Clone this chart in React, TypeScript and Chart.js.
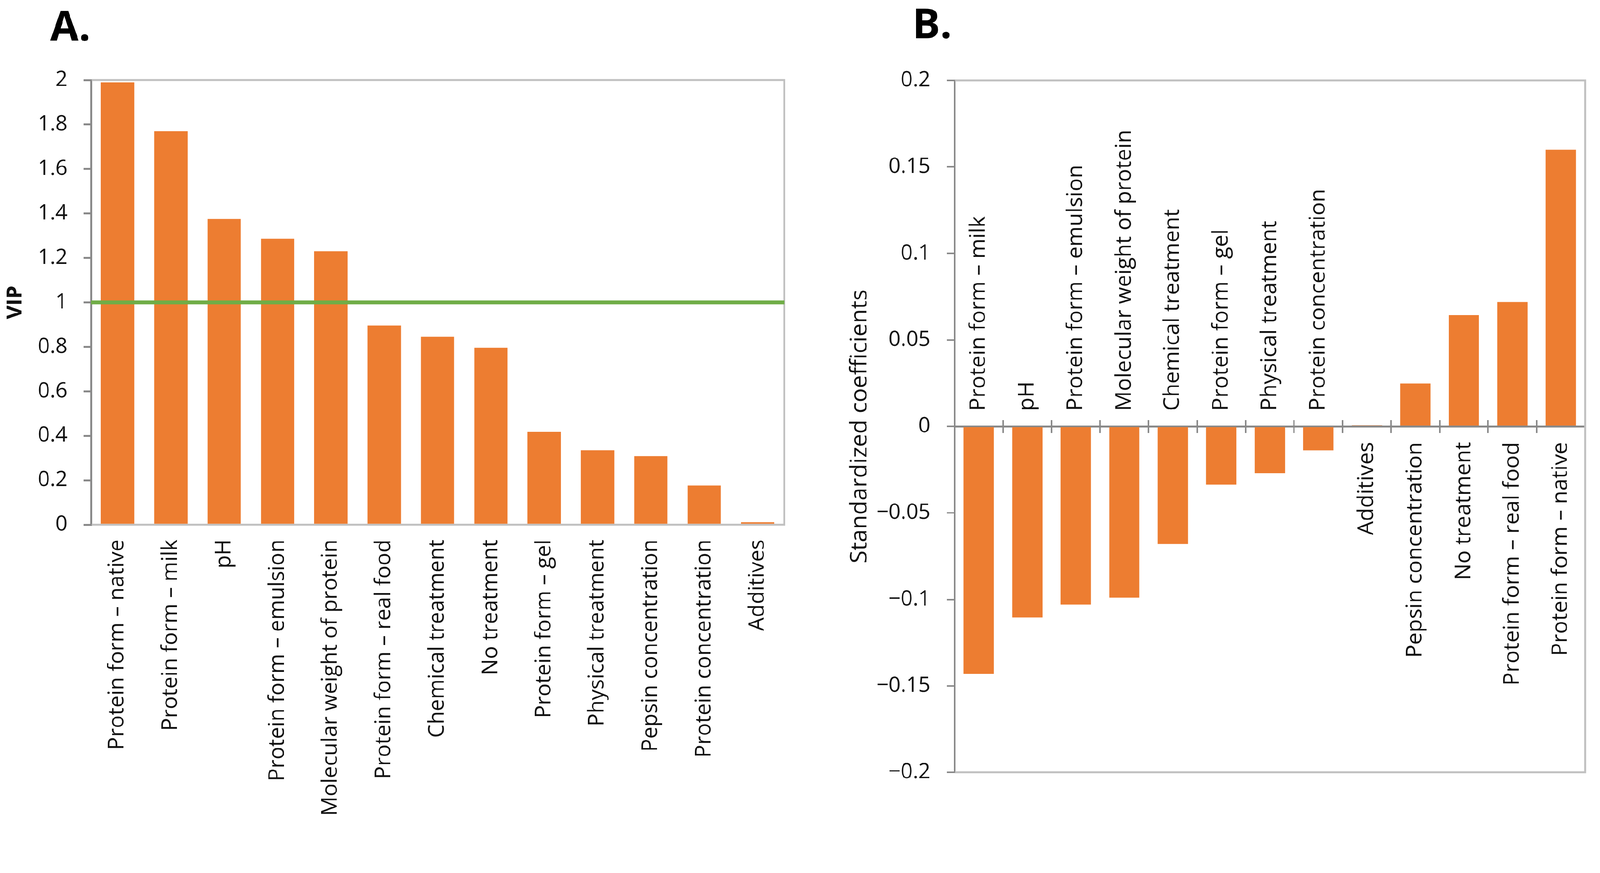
import React, { useEffect, useRef, useState } from 'react';
import { Chart, registerables } from 'chart.js';

Chart.register(...registerables);

// ---------- Data ----------
const VIP_CATEGORIES = [
  'Protein form – native',
  'Protein form – milk',
  'pH',
  'Protein form – emulsion',
  'Molecular weight of protein',
  'Protein form – real food',
  'Chemical treatment',
  'No treatment',
  'Protein form – gel',
  'Physical treatment',
  'Pepsin concentration',
  'Protein concentration',
  'Additives',
];
const VIP_VALUES = [1.99, 1.77, 1.375, 1.287, 1.23, 0.896, 0.845, 0.796, 0.417, 0.335, 0.308, 0.176, 0.011];
const VIP_THRESHOLD = 1;
const VIP_MIN = 0;
const VIP_MAX = 2;
const VIP_STEP = 0.2;

const COEF_CATEGORIES = [
  'Protein form – milk',
  'pH',
  'Protein form – emulsion',
  'Molecular weight of protein',
  'Chemical treatment',
  'Protein form – gel',
  'Physical treatment',
  'Protein concentration',
  'Additives',
  'Pepsin concentration',
  'No treatment',
  'Protein form – real food',
  'Protein form – native',
];
const COEF_VALUES = [-0.143, -0.1105, -0.103, -0.099, -0.068, -0.0337, -0.027, -0.0138, 0.0006, 0.0248, 0.0643, 0.0719, 0.16];
const COEF_MIN = -0.2;
const COEF_MAX = 0.2;
const COEF_STEP = 0.05;

const PANEL_A_TITLE = 'A.';
const PANEL_B_TITLE = 'B.';
const VIP_AXIS_TITLE = 'VIP';
const COEF_AXIS_TITLE = 'Standardized coefficients';

// ---------- Styles ----------
const ORANGE = '#ED7D31';
const GREEN = '#70AD47';
const DARK = '#898989';
const LIGHT = '#C0C0C0';
const TEXT = '#111111';
const FONT = "'Open Sans', 'Noto Sans', 'DejaVu Sans', sans-serif";

const W_A = 2156;
const W_B = 2157;
const W = W_A + W_B;
const H = 2236;

const boxPlugin = {
  id: 'plotBox',
  beforeDatasetsDraw(chart: any) {
    const { left, right, top, bottom } = chart.chartArea;
    const ctx = chart.ctx;
    ctx.save();
    ctx.strokeStyle = LIGHT;
    ctx.lineWidth = 5;
    ctx.beginPath();
    ctx.moveTo(left + 2, top);
    ctx.lineTo(right, top);
    ctx.lineTo(right, bottom);
    ctx.lineTo(left + 2, bottom);
    ctx.stroke();
    ctx.restore();
  },
};

function letterPlugin(text: string, x: number, y: number) {
  return {
    id: 'panelLetter',
    afterDraw(chart: any) {
      const ctx = chart.ctx;
      ctx.save();
      ctx.font = `bold 112px ${FONT}`;
      ctx.fillStyle = '#000';
      ctx.textAlign = 'left';
      ctx.textBaseline = 'alphabetic';
      ctx.fillText(text, x, y);
      ctx.restore();
    },
  };
}

const thresholdPlugin = {
  id: 'threshold',
  afterDatasetsDraw(chart: any) {
    const y = chart.scales.y.getPixelForValue(VIP_THRESHOLD);
    const { left, right } = chart.chartArea;
    const ctx = chart.ctx;
    ctx.save();
    ctx.strokeStyle = GREEN;
    ctx.lineWidth = 10;
    ctx.beginPath();
    ctx.moveTo(left, y);
    ctx.lineTo(right, y);
    ctx.stroke();
    ctx.restore();
  },
};

const axisLabelPlugin = {
  id: 'axisLabels',
  afterDatasetsDraw(chart: any) {
    const xs = chart.scales.x;
    const ys = chart.scales.y;
    const y0 = ys.getPixelForValue(0);
    const gap = 42;
    const ctx = chart.ctx;
    ctx.save();
    ctx.font = `59px ${FONT}`;
    ctx.fillStyle = TEXT;
    ctx.textBaseline = 'middle';
    COEF_CATEGORIES.forEach((label, i) => {
      const v = COEF_VALUES[i];
      const x = xs.getPixelForValue(i);
      ctx.save();
      ctx.translate(x, v < 0 ? y0 - gap : y0 + gap);
      ctx.rotate(-Math.PI / 2);
      ctx.textAlign = v < 0 ? 'left' : 'right';
      ctx.fillText(label, 0, 0);
      ctx.restore();
    });
    ctx.restore();
  },
};

function zeroPad(scale: any) {
  scale.paddingLeft = 0;
  scale.paddingRight = 0;
  scale.paddingTop = 0;
  scale.paddingBottom = 0;
}

function fitScale() {
  if (typeof window === 'undefined') return 1;
  const s = Math.min(window.innerWidth / W, window.innerHeight / H);
  return s > 0 ? s : 1;
}

export default function App() {
  const refA = useRef<HTMLCanvasElement>(null);
  const refB = useRef<HTMLCanvasElement>(null);
  const [scale, setScale] = useState(fitScale());

  useEffect(() => {
    const onResize = () => setScale(fitScale());
    window.addEventListener('resize', onResize);
    return () => window.removeEventListener('resize', onResize);
  }, []);

  useEffect(() => {
    const chartA = new Chart(refA.current as HTMLCanvasElement, {
      type: 'bar',
      data: {
        labels: VIP_CATEGORIES,
        datasets: [
          {
            data: VIP_VALUES,
            backgroundColor: ORANGE,
            borderWidth: 0,
            barPercentage: 0.625,
            categoryPercentage: 1,
          },
        ],
      },
      options: {
        animation: false,
        responsive: false,
        devicePixelRatio: 1,
        events: [],
        layout: { padding: { left: 0, top: 216, right: 42, bottom: 0 } },
        plugins: { legend: { display: false }, tooltip: { enabled: false }, title: { display: false } },
        scales: {
          x: {
            type: 'category',
            offset: true,
            grid: { display: false, drawTicks: false },
            border: { display: false },
            ticks: {
              autoSkip: false,
              minRotation: 90,
              maxRotation: 90,
              padding: 40,
              color: TEXT,
              font: { family: FONT, size: 58 },
            },
            afterFit(scale: any) {
              scale.height = H - 1415;
              zeroPad(scale);
            },
          },
          y: {
            min: VIP_MIN,
            max: VIP_MAX,
            ticks: {
              stepSize: VIP_STEP,
              padding: 43,
              color: TEXT,
              font: { family: FONT, size: 57 },
              callback: (v: any) => String(Math.round(Number(v) * 10) / 10),
            },
            grid: { drawOnChartArea: false, drawTicks: true, tickLength: 20, color: DARK, lineWidth: 5 },
            border: { display: true, color: DARK, width: 5 },
            title: {
              display: true,
              text: VIP_AXIS_TITLE,
              color: TEXT,
              font: { family: FONT, size: 56, weight: 'bold' },
              padding: { top: 8, bottom: 0 },
            },
            afterFit(scale: any) {
              scale.width = 245;
              zeroPad(scale);
            },
          },
        },
      } as any,
      plugins: [boxPlugin, thresholdPlugin, letterPlugin(PANEL_A_TITLE, 135, 110)],
    });

    const chartB = new Chart(refB.current as HTMLCanvasElement, {
      type: 'bar',
      data: {
        labels: COEF_CATEGORIES,
        datasets: [
          {
            data: COEF_VALUES,
            backgroundColor: ORANGE,
            borderWidth: 0,
            barPercentage: 0.625,
            categoryPercentage: 1,
          },
        ],
      },
      options: {
        animation: false,
        responsive: false,
        devicePixelRatio: 1,
        events: [],
        layout: { padding: { left: 0, top: 217, right: 40, bottom: 153 } },
        plugins: { legend: { display: false }, tooltip: { enabled: false }, title: { display: false } },
        scales: {
          x: {
            type: 'category',
            position: { y: 0 },
            offset: true,
            grid: { offset: true, drawOnChartArea: false, drawTicks: true, tickLength: 15, color: DARK, lineWidth: 4 },
            border: { display: true, color: DARK, width: 5 },
            ticks: { display: false },
            afterFit(scale: any) {
              scale.height = 0;
              zeroPad(scale);
            },
          },
          x2: {
            type: 'category',
            labels: COEF_CATEGORIES,
            position: { y: 0 },
            offset: true,
            grid: { offset: true, drawOnChartArea: false, drawTicks: true, tickLength: -17, color: DARK, lineWidth: 4 },
            border: { display: false },
            ticks: { display: false },
            afterFit(scale: any) {
              scale.height = 0;
              zeroPad(scale);
            },
          },
          y: {
            min: COEF_MIN,
            max: COEF_MAX,
            ticks: {
              stepSize: COEF_STEP,
              padding: 44,
              color: TEXT,
              font: { family: FONT, size: 57 },
              callback: (v: any) => {
                const r = Math.round(Number(v) * 100) / 100;
                return r < 0 ? '\u2212' + String(-r) : String(r);
              },
            },
            grid: { drawOnChartArea: false, drawTicks: true, tickLength: 21, color: DARK, lineWidth: 4 },
            border: { display: true, color: DARK, width: 5 },
            title: {
              display: true,
              text: COEF_AXIS_TITLE,
              color: TEXT,
              font: { family: FONT, size: 63 },
              padding: { top: 124, bottom: 0 },
            },
            afterFit(scale: any) {
              scale.width = 417;
              zeroPad(scale);
            },
          },
        },
      } as any,
      plugins: [boxPlugin, axisLabelPlugin, letterPlugin(PANEL_B_TITLE, 2459 - W_A, 103)],
    });

    return () => {
      chartA.destroy();
      chartB.destroy();
    };
  }, []);

  return (
    <div
      style={{
        position: 'absolute',
        left: 0,
        top: 0,
        width: W,
        height: H,
        overflow: 'hidden',
        background: '#fff',
        transform: `scale(${scale})`,
        transformOrigin: '0 0',
      }}
    >
      <canvas
        ref={refA}
        width={W_A}
        height={H}
        style={{ position: 'absolute', left: 0, top: 0, width: W_A, height: H }}
      />
      <canvas
        ref={refB}
        width={W_B}
        height={H}
        style={{ position: 'absolute', left: W_A, top: 0, width: W_B, height: H }}
      />
    </div>
  );
}
